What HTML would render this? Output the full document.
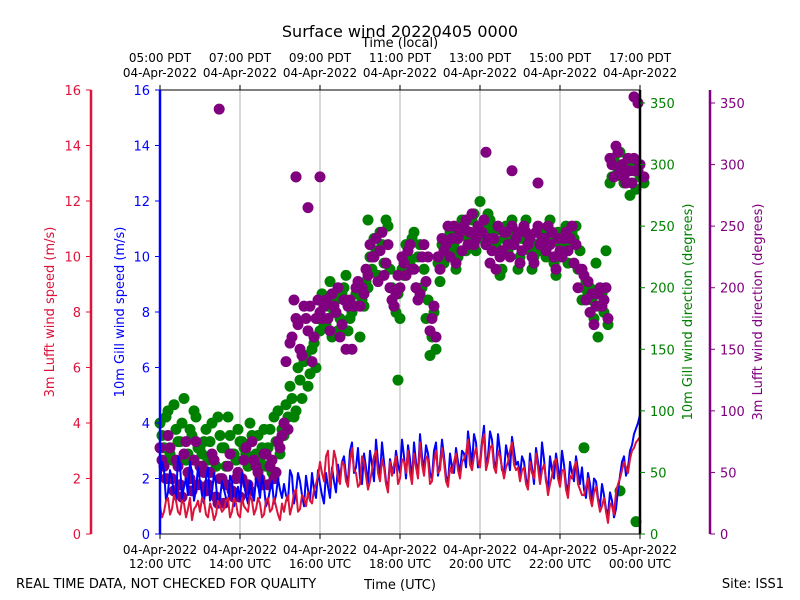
<!DOCTYPE html>
<html><head><meta charset="utf-8"><style>
body{margin:0;background:#fff}
svg{display:block;font-family:"DejaVu Sans","Liberation Sans",sans-serif}
</style></head><body>
<svg id="chart" width="800" height="600" xmlns="http://www.w3.org/2000/svg">
<text x="400" y="37" text-anchor="middle" font-size="16">Surface wind 20220405 0000</text>
<text x="400" y="47" text-anchor="middle" font-size="13">Time (local)</text>
<text x="400" y="589" text-anchor="middle" font-size="13">Time (UTC)</text>
<text x="16" y="588" font-size="13">REAL TIME DATA, NOT CHECKED FOR QUALITY</text>
<text x="784" y="588" text-anchor="end" font-size="13">Site: ISS1</text>
<text transform="translate(54,312) rotate(-90)" text-anchor="middle" font-size="13" fill="#dc143c">3m Lufft wind speed (m/s)</text>
<text transform="translate(124,312) rotate(-90)" text-anchor="middle" font-size="13" fill="#0000ff">10m Gill wind speed (m/s)</text>
<text transform="translate(692,312) rotate(-90)" text-anchor="middle" font-size="13" fill="#008000">10m Gill wind direction (degrees)</text>
<text transform="translate(762,312) rotate(-90)" text-anchor="middle" font-size="13" fill="#800080">3m Lufft wind direction (degrees)</text>
<g id="grid"></g><g id="marks"></g><g id="axes"></g>
</svg>
<script>
const gillSpeed=[1.8,2.3,1.5,2.0,1.2,2.5,1.7,1.4,2.2,1.6,1.9,1.1,2.4,1.5,1.8,1.3,
1.6,1.0,1.9,1.4,1.2,1.8,1.1,1.5,2.0,1.3,1.7,1.2,1.9,1.4,1.6,
1.8,1.2,2.1,1.5,1.9,1.0,1.6,2.2,1.3,1.8,1.1,1.7,2.4,1.5,2.0,
2.8,1.9,3.3,2.4,2.0,2.9,1.8,2.5,3.4,2.1,2.6,1.7,2.3,3.0,2.2,
2.8,3.2,1.9,2.6,3.6,2.3,2.9,2.0,3.3,2.5,2.8,1.8,2.4,3.1,2.2,
2.9,3.7,2.5,3.3,2.6,3.9,2.8,3.4,2.4,3.0,2.2,2.8,3.5,2.5,2.1,
2.6,1.7,2.4,3.1,2.0,2.7,1.6,2.3,2.9,1.9,2.5,1.5,2.2,2.8,1.8,
1.6,2.2,1.2,1.9,1.0,1.4,0.7,1.2,0.9,2.1,2.8,2.4,3.2,3.8,4.3];
const gillSpeedMid=[2.6,1.2,2.3,1.4,2.8,1.3,2.0,2.6,1.2,2.4,1.4,2.0,1.2,2.2,1.0,1.9,
1.3,2.1,1.0,1.7,2.2,1.4,1.9,1.2,1.8,2.1,1.0,1.6,1.1,2.0,1.3,
1.4,2.3,1.1,2.2,1.4,2.1,1.2,1.6,2.3,1.4,2.2,1.3,1.9,2.5,2.6,
2.1,3.0,2.2,3.1,1.8,2.4,3.0,1.9,2.6,3.3,1.9,2.7,2.2,2.5,3.4,
2.0,2.7,3.3,2.1,2.8,3.2,2.2,3.0,2.1,3.4,2.1,2.9,2.2,2.6,3.0,
2.4,3.1,3.6,2.4,3.3,2.5,3.7,2.6,3.6,2.3,3.2,2.3,3.0,2.6,2.8,
2.0,2.9,1.8,2.6,3.3,1.9,2.8,2.0,2.4,3.0,1.8,2.6,1.9,2.3,2.4,
1.3,1.8,2.0,1.3,1.8,0.9,1.5,0.6,1.6,2.6,2.1,3.0,3.6,4.0];
const lufftSpeed=[1.0,0.8,1.3,0.9,1.2,0.7,1.1,0.9,0.5,1.0,0.8,1.2,0.6,0.9,0.7,1.0,
0.9,1.3,0.8,1.1,0.6,1.0,0.8,1.2,0.9,1.1,0.7,1.3,0.9,1.0,0.5,
0.8,1.4,1.0,1.6,0.9,1.3,1.5,1.1,1.8,2.6,1.9,3.0,2.2,2.7,1.8,
2.5,1.7,3.1,2.2,1.8,2.6,1.6,2.3,3.0,1.9,2.4,1.5,2.1,2.8,2.0,
2.6,3.0,1.8,2.4,3.3,2.1,2.7,1.9,3.0,2.3,2.6,1.7,2.2,2.9,2.0,
2.7,3.4,2.3,3.1,2.4,3.6,2.6,3.2,2.2,2.8,2.0,2.6,3.3,2.3,1.9,
2.4,1.6,2.2,2.9,1.8,2.5,1.4,2.1,2.7,1.7,2.3,1.3,2.0,2.6,1.6,
1.4,2.0,1.0,1.7,0.8,1.3,0.4,1.0,1.5,2.0,2.6,2.2,3.0,3.3,3.5];
const lufftSpeedMid=[0.6,1.2,0.7,1.4,0.8,1.2,0.6,1.3,0.9,1.2,1.3,0.7,1.1,0.5,1.2,0.8,
1.2,0.6,1.3,0.7,1.3,0.9,1.4,0.7,1.3,0.6,1.2,0.8,1.3,0.7,1.1,
1.2,0.7,1.5,0.8,1.4,1.0,1.2,1.6,2.1,2.2,2.8,1.7,3.0,2.0,2.6,
1.9,2.6,2.3,1.7,2.8,2.1,1.9,2.8,2.2,2.7,1.8,2.6,2.5,1.8,2.7,
2.2,2.2,2.9,2.0,2.5,2.8,1.8,2.6,2.2,3.1,1.9,2.4,2.6,2.3,2.6,
2.9,2.5,2.8,2.6,3.2,2.3,3.1,2.4,3.0,2.4,2.4,3.0,2.5,2.4,2.3,
1.8,2.6,2.0,2.4,2.3,2.0,1.8,2.6,2.0,2.3,1.6,2.1,2.4,1.8,1.4,
1.7,1.3,1.5,1.2,1.0,0.8,1.1,0.7,1.8,2.3,2.4,2.7,3.1,3.4];
const gillDir=[90,70,100,60,85,75,110,65,80,95,70,
75,60,90,55,80,70,95,65,60,75,
70,55,80,65,60,85,70,50,75,65,
80,95,110,100,125,140,120,150,135,165,
170,185,160,190,175,200,165,180,195,160,
185,200,215,230,245,220,250,200,180,175,
210,225,240,200,235,215,190,160,150,205,
220,240,230,215,250,245,240,255,230,250,
245,260,250,235,210,240,230,255,245,225,
250,240,215,235,230,245,250,240,210,235,
240,220,245,250,230,200,195,190,220,185,
180,170,290,300,310,285,295,300,280,290,285];
const gillDir2=[80,95,65,105,75,90,60,85,100,70,
65,85,75,60,95,70,55,80,65,85,
75,65,90,60,80,70,55,85,95,100,
85,105,120,95,135,110,145,130,155,175,
195,170,205,180,165,195,210,175,185,200,
190,205,225,240,210,235,255,215,185,195,
215,235,220,245,225,200,175,145,180,220,
235,225,245,235,225,255,230,245,260,240,
250,235,255,245,230,215,250,240,235,215,
240,255,230,225,245,235,225,255,220,245,
230,250,235,240,215,190,205,200,175,160,
195,230,285,305,295,290,300,275,295,300];
const lufftDir=[70,55,80,45,60,40,65,50,35,75,55,
50,40,65,30,45,25,55,35,45,30,
60,40,75,55,45,65,40,60,50,70,
90,85,160,175,150,185,165,140,175,180,
185,175,195,180,160,190,185,150,200,185,
195,210,225,240,230,210,235,190,195,200,
220,230,215,200,195,235,225,175,160,215,
230,250,240,220,245,250,235,260,240,245,
255,240,230,215,225,245,235,250,240,220,
250,235,225,245,235,240,250,245,215,230,
240,230,250,235,215,210,205,195,185,200,
190,175,300,315,295,290,305,285,295,300,290];
const lufftDir2=[60,45,70,35,55,30,75,45,60,40,
55,35,50,60,25,45,40,65,30,50,
45,70,35,60,50,40,65,55,45,75,
80,140,155,190,170,145,175,185,160,190,
175,190,165,185,200,170,150,190,185,205,
200,215,235,225,205,245,220,200,185,210,
225,210,235,215,190,225,205,165,185,225,
240,235,225,250,240,230,255,245,235,250,
245,235,220,240,250,230,245,225,235,245,
230,245,240,220,250,240,230,235,225,240,
225,245,240,220,200,215,190,180,170,195,
185,200,305,290,310,300,285,295,305,295];
const gillExtraHours=[3.4,5.2,5.95,8.0,10.6,11.5,11.9];
const gillExtraDir=[290,255,125,270,70,35,10];
const lufftExtraHours=[1.48,3.4,4.0,3.7,8.15,8.8,9.45,11.85,11.95];
const lufftExtraDir=[345,290,290,265,310,295,285,355,350];
const xTickLabels=["12:00 UTC","14:00 UTC","16:00 UTC","18:00 UTC","20:00 UTC","22:00 UTC","00:00 UTC"];
const xTickDates=["04-Apr-2022","04-Apr-2022","04-Apr-2022","04-Apr-2022","04-Apr-2022","04-Apr-2022","05-Apr-2022"];
const localTickLabels=["05:00 PDT","07:00 PDT","09:00 PDT","11:00 PDT","13:00 PDT","15:00 PDT","17:00 PDT"];
const speedTicks=[0,2,4,6,8,10,12,14,16];
const dirTicks=[0,50,100,150,200,250,300,350];

const NS="http://www.w3.org/2000/svg";
const X0=160,X1=640,Y0=534,Y1=90;
const xH=h=>X0+h*(X1-X0)/12;
const yS=v=>Y0-v*(Y0-Y1)/16;
const yD=d=>Y0-d*431/350;
const stepH=12/(gillSpeed.length-1);
function mk(tag,attrs,parent){const e=document.createElementNS(NS,tag);for(const k in attrs)e.setAttribute(k,attrs[k]);parent.appendChild(e);return e;}
const grid=document.getElementById('grid'),marks=document.getElementById('marks'),axes=document.getElementById('axes');

for(let i=1;i<6;i++){const g=mk('line',{x1:xH(i*2),x2:xH(i*2),y1:Y1,y2:Y0,stroke:'#b0b0b0','stroke-width':1},grid);

}

function dots(arr,off,color,name){arr.forEach((d,i)=>{const c=mk('circle',{cx:xH((i+off)*stepH),cy:yD(d),r:5.5,fill:color},marks);

});}
function extra(hs,ds,color,name){hs.forEach((h,i)=>{const c=mk('circle',{cx:xH(h),cy:yD(ds[i]),r:5.5,fill:color},marks);

});}
dots(gillDir,0,'#008000','gill-direction-point');
dots(gillDir2,0.5,'#008000','gill-direction-point');
extra(gillExtraHours,gillExtraDir,'#008000','gill-direction-point');
dots(lufftDir,0,'#800080','lufft-direction-point');
dots(lufftDir2,0.5,'#800080','lufft-direction-point');
extra(lufftExtraHours,lufftExtraDir,'#800080','lufft-direction-point');
function line(arr,mid,color,name){const pts=[];arr.forEach((v,i)=>{pts.push(xH(i*stepH)+','+yS(v));if(i<mid.length)pts.push(xH((i+0.5)*stepH)+','+yS(mid[i]));});
const p=mk('polyline',{points:pts.join(' '),fill:'none',stroke:color,'stroke-width':2,'stroke-linejoin':'round'},marks);

}
line(gillSpeed,gillSpeedMid,'#0000ff','gill-speed-line');
line(lufftSpeed,lufftSpeedMid,'#dc143c','lufft-speed-line');

const fr=mk('rect',{x:X0,y:Y1,width:X1-X0,height:Y0-Y1,fill:'none',stroke:'#000','stroke-width':1},axes);


function spine(x,color,name){const s=mk('line',{x1:x,x2:x,y1:Y1,y2:Y0,stroke:color,'stroke-width':2.5},axes);

}
spine(91,'#dc143c','lufft-speed-spine');spine(160,'#0000ff','gill-speed-spine');
spine(640,'#000','gill-direction-spine');spine(710,'#800080','lufft-direction-spine');

speedTicks.forEach(v=>{
 mk('line',{x1:86,x2:91,y1:yS(v),y2:yS(v),stroke:'#dc143c'},axes);
 const t=mk('text',{x:81,y:yS(v)+5,'text-anchor':'end','font-size':13,fill:'#dc143c'},axes);t.textContent=v;
 
 
 mk('line',{x1:155,x2:160,y1:yS(v),y2:yS(v),stroke:'#0000ff'},axes);
 const u=mk('text',{x:150,y:yS(v)+5,'text-anchor':'end','font-size':13,fill:'#0000ff'},axes);u.textContent=v;
 
 
});
dirTicks.forEach(d=>{
 mk('line',{x1:640,x2:645,y1:yD(d),y2:yD(d),stroke:'#008000'},axes);
 const t=mk('text',{x:650,y:yD(d)+5,'font-size':13,fill:'#008000'},axes);t.textContent=d;
 
 
 mk('line',{x1:710,x2:715,y1:yD(d),y2:yD(d),stroke:'#800080'},axes);
 const u=mk('text',{x:720,y:yD(d)+5,'font-size':13,fill:'#800080'},axes);u.textContent=d;
 
 
});
xTickLabels.forEach((lab,i)=>{const x=xH(i*2);
 mk('line',{x1:x,x2:x,y1:Y0,y2:Y0+5,stroke:'#000'},axes);
 mk('line',{x1:x,x2:x,y1:Y1-5,y2:Y1,stroke:'#000'},axes);
 const a=mk('text',{x:x,y:554,'text-anchor':'middle','font-size':12},axes);a.textContent=xTickDates[i];
 
 
 const b=mk('text',{x:x,y:568,'text-anchor':'middle','font-size':12},axes);b.textContent=lab;
 
 
 const c=mk('text',{x:x,y:62,'text-anchor':'middle','font-size':12},axes);c.textContent=localTickLabels[i];
 
 
 const d=mk('text',{x:x,y:77,'text-anchor':'middle','font-size':12},axes);d.textContent=xTickDates[i==6?5:i];
 
 
});
</script>
</body></html>
